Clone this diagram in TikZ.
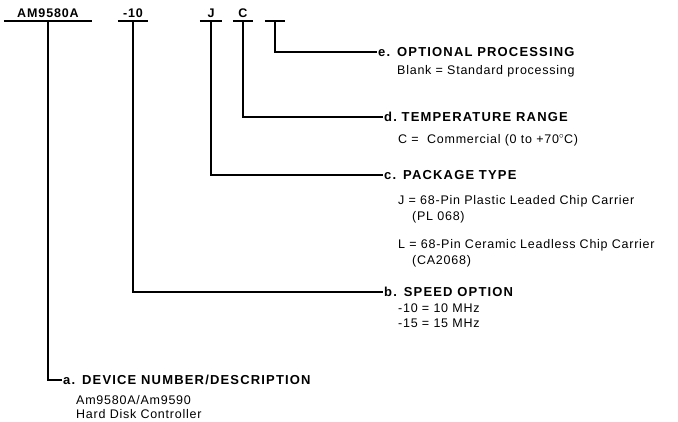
\documentclass[tikz,border=0pt]{standalone}
\usepackage{fontspec}
\setmainfont{Liberation Sans}
\newfontfamily\headfont[LetterSpace=9]{Liberation Sans}
\newfontfamily\codefont[LetterSpace=7]{Liberation Sans}
\newfontfamily\descfont[LetterSpace=6]{Liberation Sans}
\usetikzlibrary{positioning}
\tikzset{
  x=1pt,y=-1pt,
}
\tikzstyle{code}=[anchor=south,inner xsep=0pt,inner ysep=3pt,font=\codefont\bfseries\fontsize{12.5}{14}\selectfont]
\tikzstyle{title}=[anchor=west,inner sep=1pt,font=\headfont\bfseries\fontsize{13}{15}\selectfont]
\tikzstyle{desc}=[anchor=west,inner sep=0pt,font=\descfont\fontsize{12.5}{14}\selectfont]
\tikzstyle{leader}=[line width=1.1pt]

\begin{document}
\begin{tikzpicture}
    \useasboundingbox (0,0) rectangle (678,422);
    % order code fields
    \node[code,minimum width=88] (codeA) at (48,21) {AM9580A};
    \node[code,minimum width=30] (codeB) at (133,21) {-10};
    \node[code,minimum width=22] (codeC) at (211,21) {J};
    \node[code,minimum width=20] (codeD) at (243,21) {C};
    \node[code,minimum width=20] (codeE) at (275,21) {};
    \foreach \f in {A,B,C,D,E}
      \draw[leader] (code\f.south west)--(code\f.south east);
    % headings
    \node[title] (titleE) at (377,52) {e.\ \,OPTIONAL PROCESSING};
    \node[title] (titleD) at (383,117) {d.\ TEMPERATURE RANGE};
    \node[title] (titleC) at (383,175) {c.\ \,PACKAGE TYPE};
    \node[title] (titleB) at (383,292) {b.\ \,SPEED OPTION};
    \node[title] (titleA) at (62,380) {a.\ \,DEVICE NUMBER/DESCRIPTION};
    % leaders
    \draw[leader] (codeE.south) |- (titleE.west);
    \draw[leader] (codeD.south) |- (titleD.west);
    \draw[leader] (codeC.south) |- (titleC.west);
    \draw[leader] (codeB.south) |- (titleB.west);
    \draw[leader] (codeA.south) |- (titleA.west);
    % descriptions
    \node[desc] (descE) at (397,71) {Blank = Standard processing};
    \node[desc] (descD) at (398,140) {C = \ Commercial (0 to +70$^{\circ}$C)};
    \node[desc] (descC1) at (398,201) {J = 68-Pin Plastic Leaded Chip Carrier};
    \node[desc] (descC2) at (412,217) {(PL 068)};
    \node[desc] (descC3) at (398,245) {L = 68-Pin Ceramic Leadless Chip Carrier};
    \node[desc] (descC4) at (412,261) {(CA2068)};
    \node[desc] (descB1) at (398,308) {-10 = 10 MHz};
    \node[desc] (descB2) at (398,323) {-15 = 15 MHz};
    \node[desc] (descA1) at (76,400) {Am9580A/Am9590};
    \node[desc] (descA2) at (76,414) {Hard Disk Controller};
\end{tikzpicture}
\end{document}
